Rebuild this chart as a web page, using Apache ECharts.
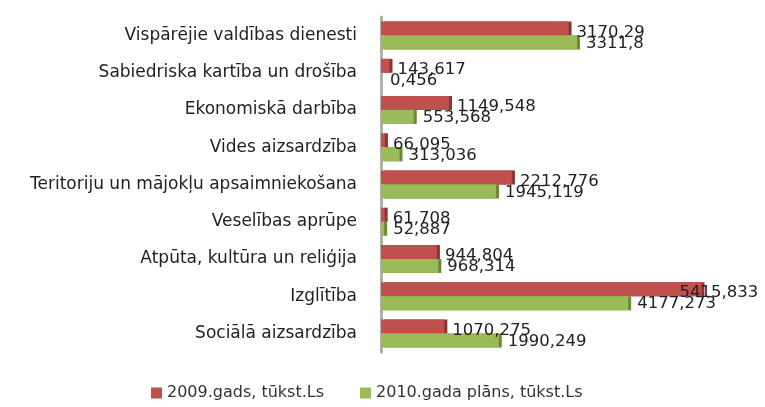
<!DOCTYPE html>
<html>
<head>
<meta charset="utf-8">
<script src="https://cdn.jsdelivr.net/npm/echarts@6/dist/echarts.min.js"></script>
<style>
  html, body { margin: 0; padding: 0; background: #fff; }
  #chart { width: 765px; height: 407px; }
</style>
</head>
<body>
<div id="chart"></div>
<script>
// budget lines, top to bottom as in the picture
const categories = [
    'Vispārējie valdības dienesti',
    'Sabiedriska kartība un drošība',
    'Ekonomiskā darbība',
    'Vides aizsardzība',
    'Teritoriju un mājokļu apsaimniekošana',
    'Veselības aprūpe',
    'Atpūta, kultūra un reliģija',
    'Izglītība',
    'Sociālā aizsardzība'
];
const values2009 = [3170.29, 143.617, 1149.548, 66.095, 2212.776, 61.708, 944.804, 5415.833, 1070.275];
const values2010 = [3311.8, 0.456, 553.568, 313.036, 1945.119, 52.887, 968.314, 4177.273, 1990.249];
const seriesNames = ['2009.gads, tūkst.Ls', '2010.gada plāns, tūkst.Ls'];

const FONT = 'DejaVu Sans';

// numbers in the picture use a decimal comma
function fmt(p) {
    return String(p.value).replace('.', ',');
}

// the longest red bar has its label pulled back over the bar end
const data2009 = values2009.map((v, i) => i === 7 ? { value: v, label: { offset: [-30, 4] } } : v);

const chart = echarts.init(document.getElementById('chart'));

chart.setOption({
    animation: false,
    grid: { left: 381, right: 29, top: 17, bottom: 55 },
    legend: {
        bottom: 1,
        left: 146,
        itemWidth: 11,
        itemHeight: 11,
        itemGap: 36,
        icon: 'rect',
        textStyle: { fontFamily: FONT, fontSize: 16, color: '#333' },
        data: seriesNames
    },
    xAxis: {
        type: 'value',
        min: 0,
        max: 6000,
        show: false
    },
    yAxis: {
        type: 'category',
        inverse: true,
        data: categories,
        axisLine: { lineStyle: { color: '#b0b0b0', width: 3 } },
        axisTick: { inside: true, length: 4, lineStyle: { color: '#bfbfbf' } },
        axisLabel: { fontFamily: FONT, fontSize: 17, color: '#222', margin: 24 }
    },
    series: [
        {
            name: seriesNames[0],
            type: 'bar',
            data: data2009,
            barWidth: 14,
            barGap: '0%',
            itemStyle: {
                color: '#C0504D',
                shadowColor: '#8c3432',
                shadowOffsetX: 3,
                shadowBlur: 0
            },
            label: {
                show: true,
                position: 'right',
                distance: 8,
                offset: [0, 4],
                formatter: fmt,
                fontFamily: FONT,
                fontSize: 16.5,
                color: '#222'
            }
        },
        {
            name: seriesNames[1],
            type: 'bar',
            data: values2010,
            barWidth: 14,
            itemStyle: {
                color: '#9BBB59',
                shadowColor: '#6a8a32',
                shadowOffsetX: 3,
                shadowBlur: 0
            },
            label: {
                show: true,
                position: 'right',
                distance: 9,
                offset: [0, 1],
                formatter: fmt,
                fontFamily: FONT,
                fontSize: 16.5,
                color: '#222'
            }
        }
    ]
});
</script>
</body>
</html>
